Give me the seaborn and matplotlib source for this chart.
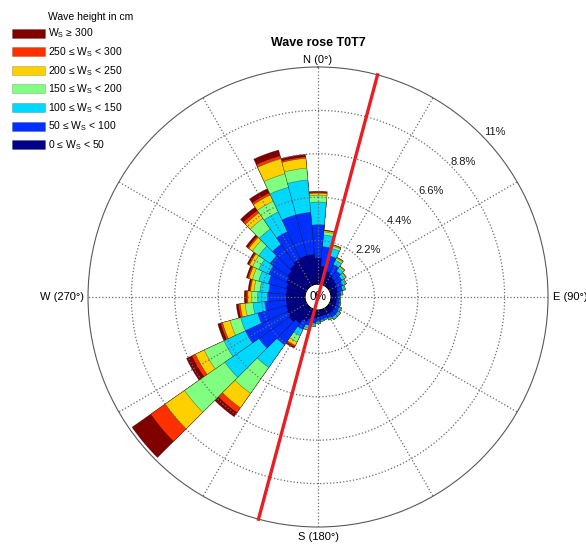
import numpy as np
import pandas as pd
import matplotlib
matplotlib.use("Agg")
import matplotlib.pyplot as plt
from matplotlib.patches import Patch
import seaborn as sns

# direction sectors (deg, clockwise from north), 10 deg wide
directions = np.arange(0, 360, 10)

# frequency (%) per wave height class, per sector
h_0_50 = [1.3, 0.9, 0.7, 0.6, 0.5, 0.45, 0.4, 0.35, 0.3, 0.28, 0.28, 0.3,
          0.32, 0.34, 0.34, 0.32, 0.3, 0.32, 0.35, 0.4, 0.5, 0.7, 0.95, 1.1,
          1.05, 1.0, 0.95, 0.95, 0.95, 1.0, 1.1, 1.2, 1.35, 1.45, 1.5, 1.5]
h_50_100 = [1.7, 1.0, 0.8, 0.55, 0.45, 0.38, 0.33, 0.28, 0.2, 0.15, 0.15, 0.17,
            0.22, 0.25, 0.25, 0.2, 0.17, 0.18, 0.23, 0.28, 0.35, 0.45, 1.35, 1.9,
            2.35, 1.5, 1.1, 0.95, 0.9, 0.95, 1.0, 1.1, 1.25, 1.55, 2.15, 2.15]
h_100_150 = [1.15, 0.6, 0.4, 0.25, 0.18, 0.15, 0.12, 0.1, 0.07, 0.04, 0.04, 0.05,
             0.08, 0.1, 0.1, 0.07, 0.05, 0.06, 0.08, 0.1, 0.15, 0.35, 1.4, 2.1,
             1.2, 0.9, 0.6, 0.5, 0.45, 0.5, 0.55, 0.7, 0.95, 1.1, 1.45, 1.65]
h_150_200 = [0.35, 0.15, 0.12, 0.1, 0.08, 0.07, 0.06, 0.04, 0.03, 0.02, 0.02, 0.02,
             0.03, 0.04, 0.04, 0.03, 0.02, 0.02, 0.03, 0.05, 0.07, 0.35, 1.6, 2.5,
             1.1, 0.55, 0.4, 0.3, 0.3, 0.33, 0.35, 0.4, 0.65, 0.6, 0.7, 0.6]
h_200_250 = [0.1, 0.06, 0.05, 0.05, 0.04, 0.03, 0.02, 0.01, 0.01, 0.0, 0.0, 0.0,
             0.01, 0.01, 0.01, 0.01, 0.0, 0.0, 0.01, 0.01, 0.02, 0.2, 0.9, 1.2,
             0.5, 0.4, 0.25, 0.2, 0.17, 0.18, 0.17, 0.22, 0.35, 0.35, 0.8, 0.5]
h_250_300 = [0.05, 0.02, 0.02, 0.01, 0.01, 0.01, 0.0, 0.0, 0.0, 0.0, 0.0, 0.0,
             0.0, 0.0, 0.0, 0.0, 0.0, 0.0, 0.0, 0.0, 0.01, 0.08, 0.3, 0.9,
             0.2, 0.1, 0.1, 0.08, 0.06, 0.07, 0.06, 0.08, 0.15, 0.12, 0.15, 0.08]
h_300 = [0.05, 0.02, 0.01, 0.01, 0.0, 0.0, 0.0, 0.0, 0.0, 0.0, 0.0, 0.0,
         0.0, 0.0, 0.0, 0.0, 0.0, 0.0, 0.0, 0.0, 0.0, 0.07, 0.25, 1.15,
         0.3, 0.15, 0.1, 0.1, 0.07, 0.07, 0.07, 0.1, 0.2, 0.23, 0.3, 0.12]

class_labels = ["0 ≤ W$_\\mathrm{S}$ < 50", "50 ≤ W$_\\mathrm{S}$ < 100",
                "100 ≤ W$_\\mathrm{S}$ < 150", "150 ≤ W$_\\mathrm{S}$ < 200",
                "200 ≤ W$_\\mathrm{S}$ < 250", "250 ≤ W$_\\mathrm{S}$ < 300",
                "W$_\\mathrm{S}$ ≥ 300"]
class_colors = ["#000088", "#0030FF", "#00D8FF", "#80FF80", "#FFD000", "#FF3000", "#800000"]

r_ticks = [2.2, 4.4, 6.6, 8.8, 11]
main_axis_dir = 15  # red line direction (deg)

plt.rcParams['font.family'] = ['Liberation Sans', 'DejaVu Sans']
plt.rcParams['mathtext.fontset'] = 'custom'
plt.rcParams['mathtext.rm'] = 'Liberation Sans'

fig = plt.figure(figsize=(5.86, 5.44), dpi=100)
ax = fig.add_axes([0.1502, 0.03125, 0.785, 0.8456], projection='polar')
ax.set_theta_zero_location('N')
ax.set_theta_direction(-1)

layers = np.array([h_0_50, h_50_100, h_100_150, h_150_200, h_200_250, h_250_300, h_300])
cum = np.cumsum(layers, axis=0)
df = pd.DataFrame({'theta': np.deg2rad(directions)})

# draw cumulative bars from the outermost class inwards
for i in reversed(range(len(layers))):
    df['r'] = cum[i]
    sns.barplot(data=df, x='theta', y='r', native_scale=True, orient='x',
                width=1.0, color=class_colors[i], saturation=1, errorbar=None,
                edgecolor=(0, 0, 0, 0.45), linewidth=0.4, ax=ax)

ax.set_xlabel('')
ax.set_ylabel('')
ax.set_xlim(0, 2 * np.pi)
ax.set_ylim(0, r_ticks[-1])
ax.set_rorigin(-0.66)

ax.set_thetagrids(np.arange(0, 360, 30), labels=[''] * 12)
ax.set_rgrids(r_ticks[:-1], labels=[''] * 4)
ax.set_axisbelow(False)
ax.grid(True, color='0.42', linestyle=':', linewidth=0.9)
ax.spines['polar'].set_color('0.35')
ax.spines['polar'].set_linewidth(0.8)
ax.spines['inner'].set_visible(False)
ax.tick_params(length=0)

# main direction line through centre
t = np.deg2rad(main_axis_dir)
for a in (t, t + np.pi):
    ax.plot([a, a], [-0.66, r_ticks[-1]], color='#E81E25', lw=2.4, clip_on=False, zorder=4)

# radial labels
for r in r_ticks:
    ax.text(np.deg2rad(47), r + 0.6, f"{r:g}%", ha='center', va='center', fontsize=8, color='0.1')
ax.text(0.5, 0.5, '0%', transform=ax.transAxes, ha='center', va='center', fontsize=8.5, zorder=3)

# compass labels
rmax = r_ticks[-1]
ax.text(0, rmax + 0.1, 'N (0°)', ha='center', va='bottom', fontsize=8, clip_on=False)
ax.text(np.pi / 2, rmax + 0.25, 'E (90°)', ha='left', va='center', fontsize=8, clip_on=False)
ax.text(np.pi, rmax + 0.25, 'S (180°)', ha='center', va='top', fontsize=8, clip_on=False)
ax.text(3 * np.pi / 2, rmax + 0.2, 'W (270°)', ha='right', va='center', fontsize=8, clip_on=False)

ax.set_title('Wave rose T0T7', fontsize=9, fontweight='bold', pad=15)

handles = [Patch(facecolor=c, edgecolor=(0, 0, 0, 0.3), linewidth=0.4) for c in class_colors[::-1]]
fig.legend(handles, class_labels[::-1], loc='upper left', bbox_to_anchor=(0.0205, 0.951),
           frameon=False, fontsize=7.5, handlelength=3.17, handleheight=0.96,
           handletextpad=0.3, labelspacing=0.46, borderpad=0, borderaxespad=0)
fig.text(48 / 586, 1 - 17 / 544, 'Wave height in cm', fontsize=7.5, ha='left', va='center')

fig.savefig('out.png', dpi=100)
